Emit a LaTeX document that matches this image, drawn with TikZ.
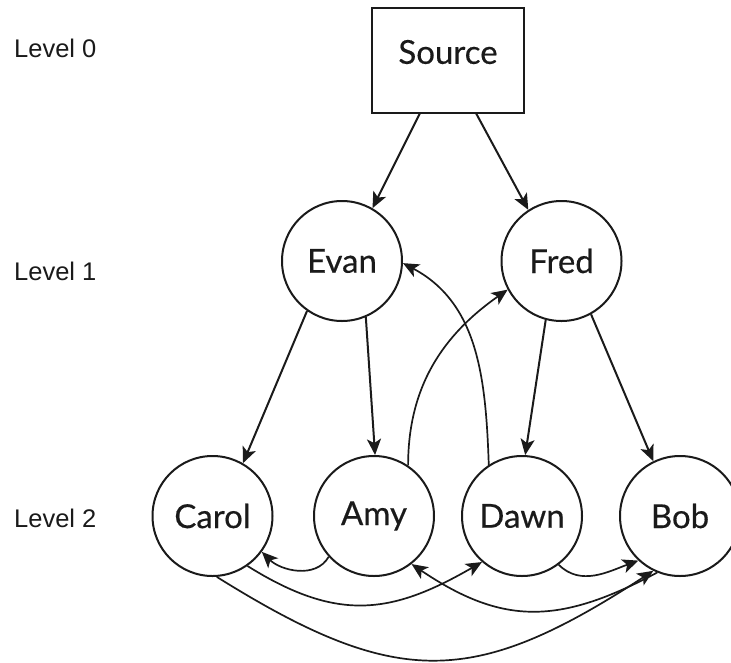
\documentclass[tikz,border=0pt]{standalone}
\usepackage{fontspec}
\setmainfont{Lato}
\newfontfamily\nodefont[FakeBold=0.4]{Lato}
\newfontfamily\lvlfont{Liberation Sans}
\usetikzlibrary{arrows.meta}
\definecolor{ink}{HTML}{1A1A1A}
\tikzset{
  person/.style={circle, draw=ink, line width=2pt, minimum size=120pt, inner sep=0pt,
    text=ink, font=\nodefont\fontsize{33}{36}\selectfont},
  sourcebox/.style={rectangle, draw=ink, line width=1.5pt, minimum width=152pt, minimum height=105pt,
    inner sep=0pt},
  level/.style={anchor=west, text=ink, font=\lvlfont\fontsize{25.5}{28}\selectfont, inner sep=0pt},
  edge/.style={draw=ink, line width=2pt, -{Stealth[length=16pt, width=14pt, inset=4pt]}},
  thin edge/.style={edge, line width=1.7pt}
}
\begin{document}
\begin{tikzpicture}[x=1pt, y=-1pt]
  \useasboundingbox (0,0) rectangle (731,662);

  % level captions
  \node[level] (l0) at (14,48) {Level 0};
  \node[level] (l1) at (14,271) {Level 1};
  \node[level] (l2) at (14,518) {Level 2};

  % nodes
  \node[sourcebox] (source) at (448,60.5) {};
  \node[text=ink, font=\nodefont\fontsize{33}{36}\selectfont] (srclabel) at (448,52) {Source};
  \node[person] (evan) at (342,261) {Evan};
  \node[person] (fred) at (561.5,261) {Fred};
  \node[person] (carol) at (212.5,516) {Carol};
  \node[person] (amy) at (374,516) {Amy};
  \node[person] (dawn) at (522,516) {Dawn};
  \node[person] (bob) at (680,516) {Bob};

  % straight edges
  \draw[edge] (source.-118) -- (evan.60);
  \draw[edge] (source.-62) -- (fred.123);
  \draw[edge] (evan.235) -- (carol.60);
  \draw[edge] (evan.-67) -- (amy.89);
  \draw[edge] (fred.-105) -- (dawn.87);
  \draw[edge] (fred.-61) -- (bob.116);

  % curved edges between the two levels
  \draw[thin edge] (amy.56) to[out=90, in=215] (fred.208);
  \draw[thin edge] (dawn.123) to[out=92, in=-28] (evan.-2);

  % curved edges along the bottom row
  \draw[thin edge] (amy.222) to[out=240, in=-45] (carol.-36);
  \draw[thin edge] (carol.-55) to[out=-32, in=210, looseness=1.15] (dawn.229);
  \draw[thin edge] (bob.248) to[out=208, in=-34, looseness=1.15] (amy.-52);
  \draw[thin edge] (dawn.-53) to[out=-45, in=200] (bob.227);
  \draw[thin edge] (carol.-86) to[out=-32, in=213, looseness=1.25] (bob.244);
\end{tikzpicture}
\end{document}
